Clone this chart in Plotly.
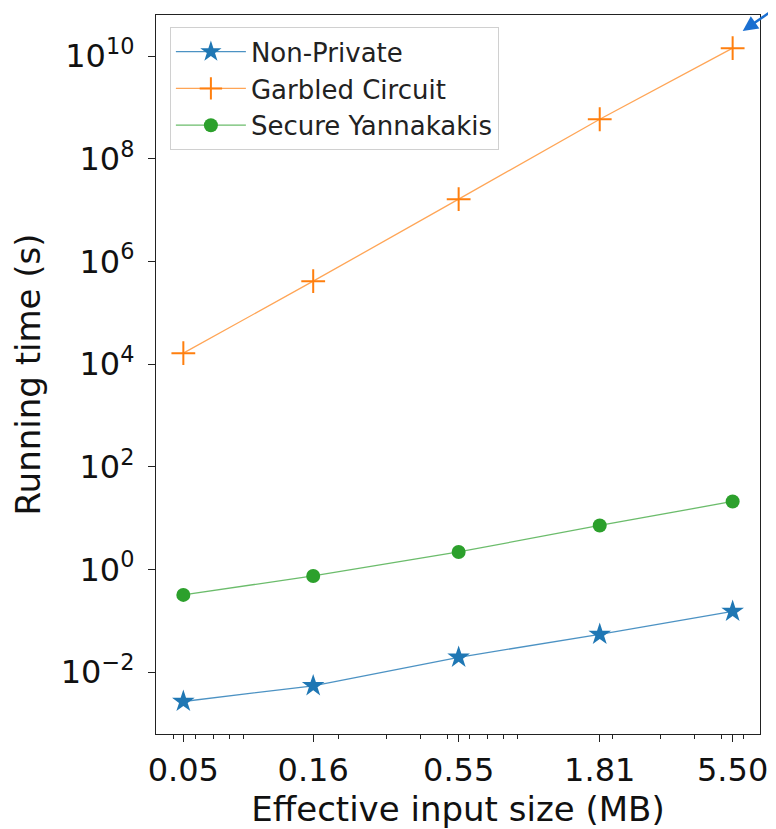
import plotly.graph_objects as go

# Data
sizes_mb = [0.0544, 0.162, 0.55, 1.80, 5.50]
x_tick_labels = ["0.05", "0.16", "0.55", "1.81", "5.50"]
non_private = [0.00267, 0.0054, 0.0194, 0.0542, 0.152]
garbled_circuit = [1.64e4, 4.14e5, 1.64e7, 5.92e8, 1.44e10]
secure_yannakakis = [0.319, 0.747, 2.19, 7.19, 21.1]
y_tick_exponents = [-2, 0, 2, 4, 6, 8, 10]
x_minor_ticks = [0.05, 0.06, 0.07, 0.08, 0.09, 0.2, 0.3, 0.4, 0.5, 0.6, 0.7, 0.8, 0.9, 2, 3, 4, 5, 6]

FONT = "DejaVu Sans"
BLUE, ORANGE, GREEN = "#1f77b4", "#ff7f0e", "#2ca02c"

fig = go.Figure()
fig.add_trace(go.Scatter(
    x=sizes_mb, y=non_private, name="Non-Private", mode="lines+markers",
    line=dict(color="rgba(31,119,180,0.8)", width=1.3),
    marker=dict(symbol="star", size=17, color=BLUE, line=dict(width=0)),
))
fig.add_trace(go.Scatter(
    x=sizes_mb, y=garbled_circuit, name="Garbled Circuit", mode="lines+markers",
    line=dict(color="rgba(255,127,14,0.7)", width=1.3),
    marker=dict(symbol="cross-thin", size=17, color=ORANGE, line=dict(width=2, color=ORANGE)),
))
fig.add_trace(go.Scatter(
    x=sizes_mb, y=secure_yannakakis, name="Secure Yannakakis", mode="lines+markers",
    line=dict(color="rgba(44,160,44,0.7)", width=1.3),
    marker=dict(symbol="circle", size=14, color=GREEN, line=dict(width=0)),
))

axis_common = dict(
    showline=True, linecolor="#222", linewidth=1.3, mirror=True,
    showgrid=False, zeroline=False, ticks="outside", ticklen=7, tickwidth=1.3,
    tickcolor="#222", tickfont=dict(family=FONT, size=32, color="#111"),
)

fig.update_xaxes(
    type="log", range=[-1.3642, 0.8402],
    tickmode="array", tickvals=sizes_mb, ticktext=x_tick_labels,
    minor=dict(tickmode="array", tickvals=x_minor_ticks, ticks="outside", ticklen=4,
               tickwidth=1, tickcolor="#222"),
    title=dict(text="Effective input size (MB)", font=dict(family=FONT, size=34, color="#111"), standoff=6),
    **axis_common,
)
fig.update_yaxes(
    type="log", range=[-3.207, 10.804],
    tickmode="array", tickvals=[10.0 ** e for e in y_tick_exponents],
    ticktext=[f"10<sup>{e}</sup>".replace("-", "\u2212") for e in y_tick_exponents],
    ticklabelstandoff=7,
    title=dict(text="Running time (s)", font=dict(family=FONT, size=34, color="#111"), standoff=12),
    **axis_common,
)

# the page body has an 8px margin, so the figure is shrunk and offset by it
fig.update_layout(
    width=768, height=821,
    margin=dict(l=148, r=16, t=7, b=95),
    paper_bgcolor="white", plot_bgcolor="white",
    font=dict(family=FONT, color="#111"),
    showlegend=True,
    legend=dict(
        x=0.023, y=0.983, xanchor="left", yanchor="top",
        bgcolor="rgba(255,255,255,0.8)", bordercolor="#d0d0d0", borderwidth=1,
        font=dict(family=FONT, size=26, color="#222"),
        itemwidth=70,
    ),
)

fig.add_annotation(
    x=0.9714, y=0.9778, xref="paper", yref="paper", text="",
    showarrow=True, ax=40, ay=-37, arrowhead=2, arrowsize=1.2, arrowwidth=2.5,
    arrowcolor="#1a6fd1",
)

fig.write_html("out.html")
